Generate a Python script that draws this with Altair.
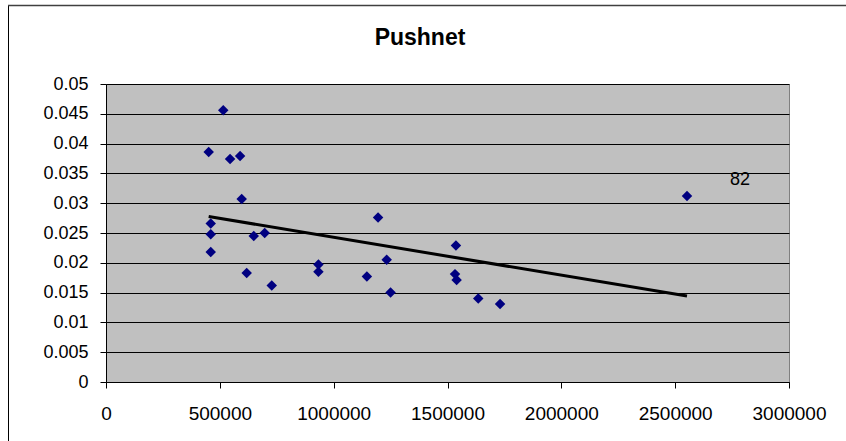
import altair as alt
import pandas as pd

# Data
x_vals = [515000, 451000, 545000, 589000, 596000, 460000, 460000, 460000,
          649000, 697000, 618000, 728000, 933000, 933000, 1146000, 1195000,
          1233000, 1250000, 1537000, 1533000, 1540000, 1635000, 1731000, 2552000]
y_vals = [0.0456, 0.0386, 0.0374, 0.0379, 0.0307, 0.0266, 0.0248, 0.0218,
          0.0245, 0.0250, 0.0183, 0.0162, 0.0197, 0.0185, 0.0177, 0.0276,
          0.0205, 0.0150, 0.0229, 0.0181, 0.0171, 0.0140, 0.0131, 0.0312]

label_x = [2552000]
label_y = [0.0312]
label_text = ["82"]

chart_title = ["Pushnet"]

x_ticks = [0, 500000, 1000000, 1500000, 2000000, 2500000, 3000000]
y_ticks = [0, 0.005, 0.01, 0.015, 0.02, 0.025, 0.03, 0.035, 0.04, 0.045, 0.05]

df = pd.DataFrame({"x": x_vals, "y": y_vals})
lab = pd.DataFrame({"x": label_x, "y": label_y, "t": label_text})

FONT = "Liberation Sans"

xs = alt.Scale(domain=[0, 3000000], nice=False, zero=False)
ys = alt.Scale(domain=[0, 0.05], nice=False, zero=False)

x_axis = alt.Axis(values=x_ticks, format="d", grid=False, title=None,
                  tickSize=6, tickColor="black", domainColor="black",
                  labelFontSize=19, labelFont=FONT, labelColor="black",
                  labelPadding=16, labelFlush=False, labelOverlap=False)
y_axis = alt.Axis(values=y_ticks, format=".3~f", grid=True, gridColor="black",
                  gridWidth=1, gridOpacity=1, title=None, tickCount=11,
                  tickSize=6, tickColor="black", domainColor="black",
                  labelFontSize=18, labelFont=FONT, labelColor="black",
                  labelPadding=12, labelFlush=False, labelOverlap=False)

X = alt.X("x:Q", scale=xs, axis=x_axis)
Y = alt.Y("y:Q", scale=ys, axis=y_axis)

base = alt.Chart(df)

points = base.mark_point(shape="diamond", filled=True, color="#000080",
                         size=110, opacity=1).encode(x=X, y=Y)

trend = base.transform_regression("x", "y").mark_line(
    color="black", strokeWidth=3
).encode(x=X, y=Y)

label = alt.Chart(lab).mark_text(
    font=FONT, fontSize=18, color="black", dx=53, dy=-16,
    align="center", baseline="middle"
).encode(x=X, y=Y, text="t:N")

frame_data = alt.Data(values=[{}])
border_left = alt.Chart(frame_data).mark_rule(color="black", strokeWidth=1, clip=False).encode(
    x=alt.value(-97.5), y=alt.value(-79), y2=alt.value(370)
)
border_top = alt.Chart(frame_data).mark_rule(color="#404040", strokeWidth=1.5, clip=False).encode(
    x=alt.value(-98), x2=alt.value(760), y=alt.value(-78.5)
)

title_mark = alt.Chart(pd.DataFrame({"t": chart_title})).mark_text(
    font=FONT, fontSize=23, fontWeight="bold", color="black",
    align="center", baseline="middle", clip=False
).encode(x=alt.value(314), y=alt.value(-46), text="t:N")

chart = alt.layer(points, trend, label, border_left, border_top, title_mark).properties(
    width=683,
    height=298,
    autosize=alt.AutoSizeParams(type="none"),
    padding={"left": 106, "top": 84, "right": 57, "bottom": 59},
    background="white",
).configure_view(
    fill="#C0C0C0", stroke="#808080", strokeWidth=1
)

chart.save("out.html", embed_options={"renderer": "svg", "actions": False})
